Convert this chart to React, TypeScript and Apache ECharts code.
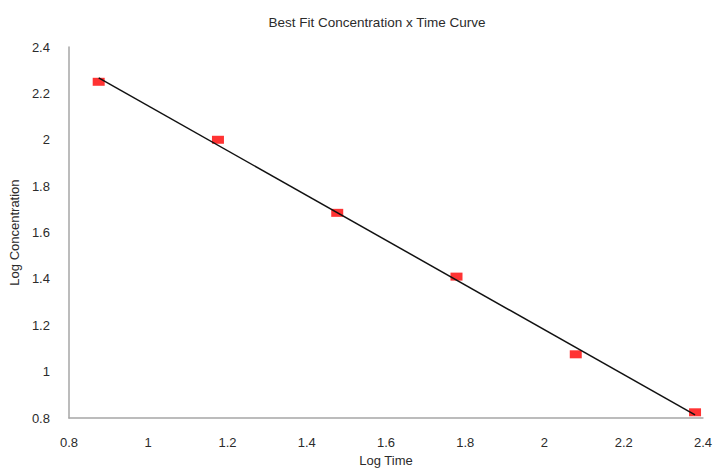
import React, { useEffect, useRef } from "react";
import * as echarts from "echarts";

const logTime = [0.875, 1.176, 1.477, 1.778, 2.079, 2.38];
const logConc = [2.25, 2.0, 1.685, 1.41, 1.075, 0.825];
const fitX = [0.875, 2.38];
const fitY = [2.267, 0.814];

export default function App() {
  const ref = useRef<HTMLDivElement>(null);
  useEffect(() => {
    if (!ref.current) return;
    const chart = echarts.init(ref.current, null, { renderer: "svg" });
    const font = "'Liberation Sans', Arial, sans-serif";
    chart.setOption({
      animation: false,
      backgroundColor: "#ffffff",
      title: {
        text: "Best Fit Concentration x Time Curve",
        left: 372,
        top: 10,
        textAlign: "center",
        textStyle: { fontSize: 13.5, fontWeight: "normal", color: "#2b2b2b", fontFamily: font },
      },
      grid: { left: 65, right: 12, top: 47, bottom: 49, containLabel: false },
      xAxis: {
        type: "value",
        min: 0.8,
        max: 2.4,
        interval: 0.2,
        name: "Log Time",
        nameLocation: "middle",
        nameGap: 34,
        nameTextStyle: { fontSize: 13, color: "#2b2b2b", fontFamily: font },
        axisLine: { show: true, lineStyle: { color: "#a6a6a6", width: 1.5 } },
        axisTick: { show: false },
        splitLine: { show: false },
        axisLabel: { margin: 18, fontSize: 13, color: "#2b2b2b", fontFamily: font },
      },
      yAxis: {
        type: "value",
        min: 0.8,
        max: 2.4,
        interval: 0.2,
        name: "Log Concentration",
        nameLocation: "middle",
        nameGap: 40,
        nameTextStyle: { fontSize: 13, color: "#2b2b2b", fontFamily: font },
        axisLine: { show: true, lineStyle: { color: "#a6a6a6", width: 1.5 } },
        axisTick: { show: false },
        splitLine: { show: false },
        axisLabel: { margin: 19, fontSize: 13, color: "#2b2b2b", fontFamily: font },
      },
      series: [
        {
          type: "line",
          data: fitX.map((x, i) => [x, fitY[i]]),
          showSymbol: false,
          symbol: "none",
          lineStyle: { color: "#111", width: 1.5 },
          z: 3,
        },
        {
          type: "scatter",
          data: logTime.map((x, i) => [x, logConc[i]]),
          symbol: "rect",
          symbolSize: [12, 8],
          itemStyle: { color: "#ff0000" },
          z: 2,
        },
      ],
    });
    return () => chart.dispose();
  }, []);
  return (
    <div
      ref={ref}
      style={{ position: "fixed", left: 0, top: 0, width: 715, height: 472 }}
    />
  );
}
